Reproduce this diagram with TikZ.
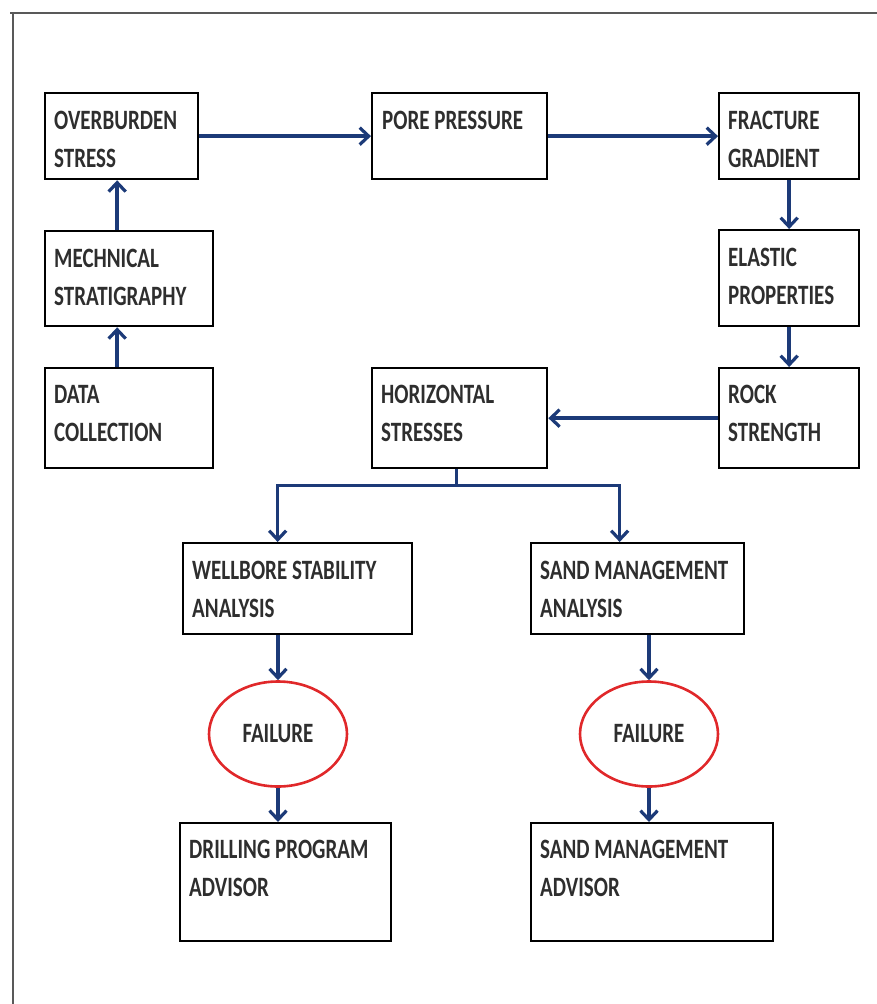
\documentclass[tikz,border=0pt]{standalone}
\usepackage{fontspec}
\setmainfont{Carlito}[FakeStretch=0.75]
\usetikzlibrary{arrows.meta,shapes.geometric}
\definecolor{flowblue}{HTML}{1C3A78}
\definecolor{failred}{HTML}{E0282A}
\definecolor{txtgray}{HTML}{2E2E2E}

\begin{document}
\begin{tikzpicture}[x=1pt,y=-1pt,
    block/.style={draw=black, line width=2.3pt, inner sep=0pt, anchor=north west},
    lbl/.style={anchor=north west, inner sep=0pt, align=left, text=txtgray,
        font=\bfseries\fontsize{28}{38}\selectfont},
    fail/.style={ellipse, draw=failred, line width=2.6pt, inner sep=0pt,
        minimum width=138pt, minimum height=105pt, text=txtgray,
        font=\bfseries\fontsize{28}{38}\selectfont},
    flow/.style={draw=flowblue, line width=3.4pt,
        -{Straight Barb[length=9pt,width=17pt,line width=3.2pt]}}]
    \useasboundingbox (0,0) rectangle (877,1004);
    % frame
    \draw[line width=1.4pt, black!65] (10,13) -- (877,13);
    \draw[line width=1.4pt, black!65] (13,13) -- (13,1004);
    % boxes
    \node[block, minimum width=153pt, minimum height=86pt] (ob) at (44,92) {};
    \node[block, minimum width=175pt, minimum height=86pt] (pp) at (371,92) {};
    \node[block, minimum width=140pt, minimum height=86pt] (fg) at (718,92) {};
    \node[block, minimum width=168pt, minimum height=95pt] (ms) at (44,230) {};
    \node[block, minimum width=140pt, minimum height=96pt] (ep) at (718,229) {};
    \node[block, minimum width=168pt, minimum height=100pt] (dc) at (44,367) {};
    \node[block, minimum width=175pt, minimum height=100pt] (hs) at (371,367) {};
    \node[block, minimum width=140pt, minimum height=100pt] (rs) at (718,367) {};
    \node[block, minimum width=229pt, minimum height=91pt] (wb) at (182,542) {};
    \node[block, minimum width=213pt, minimum height=91pt] (sm) at (530,542) {};
    \node[block, minimum width=211pt, minimum height=118pt] (dp) at (179,822) {};
    \node[block, minimum width=242pt, minimum height=118pt] (sa) at (530,822) {};
    % failure
    \node[fail] (fwb) at (278,734) {FAILURE};
    \node[fail] (fsm) at (649,734) {FAILURE};
    % labels
    \node[lbl] (obt) at ([shift={(10,19)}]ob.north west) {OVERBURDEN\\STRESS};
    \node[lbl] (ppt) at ([shift={(11,19)}]pp.north west) {PORE PRESSURE};
    \node[lbl] (fgt) at ([shift={(10,19)}]fg.north west) {FRACTURE\\GRADIENT};
    \node[lbl] (mst) at ([shift={(10,19)}]ms.north west) {MECHNICAL\\STRATIGRAPHY};
    \node[lbl] (ept) at ([shift={(10,19)}]ep.north west) {ELASTIC\\PROPERTIES};
    \node[lbl] (dct) at ([shift={(10,18)}]dc.north west) {DATA\\COLLECTION};
    \node[lbl] (hst) at ([shift={(10,18)}]hs.north west) {HORIZONTAL\\STRESSES};
    \node[lbl] (rst) at ([shift={(10,18)}]rs.north west) {ROCK\\STRENGTH};
    \node[lbl] (wbt) at ([shift={(10,19)}]wb.north west) {WELLBORE STABILITY\\ANALYSIS};
    \node[lbl] (smt) at ([shift={(10,19)}]sm.north west) {SAND MANAGEMENT\\ANALYSIS};
    \node[lbl] (dpt) at ([shift={(10,18)}]dp.north west) {DRILLING PROGRAM\\ADVISOR};
    \node[lbl] (sat) at ([shift={(10,18)}]sa.north west) {SAND MANAGEMENT\\ADVISOR};
    % arrows
    \draw[flow] (ob.east) -- (pp.west);
    \draw[flow] (pp.east) -- (fg.west);
    \draw[flow] (fg.south) -- (ep.north);
    \draw[flow] (ep.south) -- (rs.north);
    \draw[flow] (rs.west) -- (hs.east);
    \draw[flow] ([xshift=-12pt]dc.north) -- ([xshift=-12pt]ms.south);
    \draw[flow] ([xshift=-12pt]ms.north) -- ([xshift=-12pt]ms.north |- ob.south);
    \draw[draw=flowblue, line width=3.4pt] ([xshift=-3pt]hs.south) -- ++(0,16) coordinate (fork);
    \draw[flow] (fork) -| ([xshift=-20pt]wb.north);
    \draw[flow] (fork) -| ([xshift=-18pt]sm.north);
    \draw[flow] (fwb.north |- wb.south) -- (fwb.north);
    \draw[flow] (fwb.south) -- (fwb.south |- dp.north);
    \draw[flow] (fsm.north |- sm.south) -- (fsm.north);
    \draw[flow] (fsm.south) -- (fsm.south |- sa.north);
\end{tikzpicture}
\end{document}
